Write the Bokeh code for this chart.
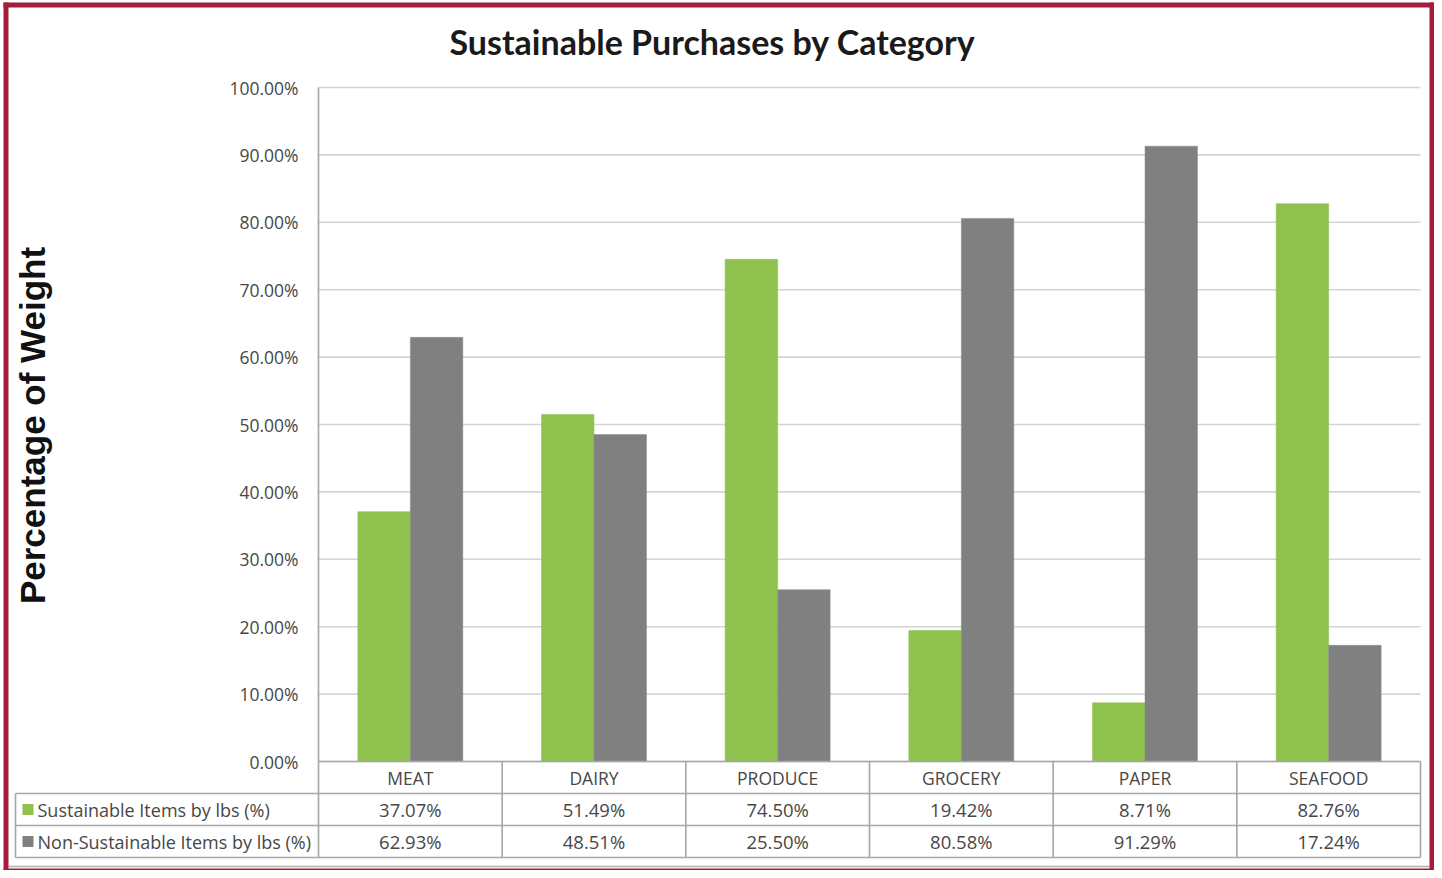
from math import pi
from bokeh.plotting import figure
from bokeh.models import Range1d
from bokeh.core.properties import value
from bokeh.embed import file_html
from bokeh.resources import INLINE

# ---------------- data ----------------
title_text = "Sustainable Purchases by Category"
y_label_text = "Percentage of Weight"
categories = ["MEAT", "DAIRY", "PRODUCE", "GROCERY", "PAPER", "SEAFOOD"]
sustainable = [37.07, 51.49, 74.50, 19.42, 8.71, 82.76]
non_sustainable = [62.93, 48.51, 25.50, 80.58, 91.29, 17.24]
series_names = ["Sustainable Items by lbs (%)", "Non-Sustainable Items by lbs (%)"]
y_ticks = [0, 10, 20, 30, 40, 50, 60, 70, 80, 90, 100]

# ---------------- layout (pixels of the reference picture) ----------------
PX = (1420 - 318) / 6.0     # pixels per category
PY = (761 - 87) / 100.0     # pixels per percent


def X(px):
    return (px - 318) / PX


def Y(py):
    return (761 - py) / PY


GREEN = "#8fc14f"
GRAY = "#7f807f"
GRID = "#d4d4d4"
AXIS = "#a6a6a6"
TXT = "#474747"
RED = "#a51d3a"
FONT = "Open Sans"

W, H = 1434, 870
p = figure(width=W, height=H, output_backend="svg", toolbar_location=None,
           x_range=Range1d(X(0), X(W)), y_range=Range1d(Y(H), Y(0)),
           x_axis_location=None, y_axis_location=None, min_border=0,
           background_fill_color="white", border_fill_color="white")
p.grid.visible = False
p.outline_line_color = None

n = len(categories)
idx = list(range(n))
bw = 52.5 / PX

# gridlines
p.segment(x0=[0] * len(y_ticks), x1=[n] * len(y_ticks), y0=y_ticks, y1=y_ticks,
          line_color=GRID, line_width=1.6)

# bars
p.vbar(x=[i + 0.5 - bw / 2 for i in idx], top=sustainable, bottom=0, width=bw,
       fill_color=GREEN, line_color=GREEN, line_width=0.5)
p.vbar(x=[i + 0.5 + bw / 2 for i in idx], top=non_sustainable, bottom=0, width=bw,
       fill_color=GRAY, line_color="#8c8c8c", line_width=0.5)

# axis lines and data-table lines
p.segment(x0=[0], x1=[0], y0=[100], y1=[Y(857)], line_color=AXIS, line_width=1.6)
p.segment(x0=[0], x1=[n], y0=[0], y1=[0], line_color=AXIS, line_width=1.6)
p.segment(x0=[X(15)] * 3, x1=[n] * 3, y0=[Y(793), Y(825), Y(857)],
          y1=[Y(793), Y(825), Y(857)], line_color=AXIS, line_width=1.6)
p.segment(x0=[X(15)], x1=[X(15)], y0=[Y(793)], y1=[Y(857)], line_color=AXIS, line_width=1.6)
p.segment(x0=[i + 1 for i in idx], x1=[i + 1 for i in idx], y0=[0] * n, y1=[Y(857)] * n,
          line_color=AXIS, line_width=1.6)

# y tick labels
p.text(x=[X(298)] * len(y_ticks), y=y_ticks, text=[f"{t:.2f}%" for t in y_ticks],
       text_align="right", text_baseline="middle", text_font=value(FONT),
       text_font_size="17.5px", text_color=TXT)

# table: categories and values
cx = [i + 0.5 for i in idx]
p.text(x=cx, y=[Y(777)] * n, text=categories, text_align="center", text_baseline="middle",
       text_font=value(FONT), text_font_size="17.5px", text_color=TXT)
p.text(x=cx, y=[Y(809)] * n, text=[f"{v:.2f}%" for v in sustainable], text_align="center",
       text_baseline="middle", text_font=value(FONT), text_font_size="18.5px", text_color=TXT)
p.text(x=cx, y=[Y(841)] * n, text=[f"{v:.2f}%" for v in non_sustainable], text_align="center",
       text_baseline="middle", text_font=value(FONT), text_font_size="18.5px", text_color=TXT)

# legend keys inside the table
p.scatter(x=[X(27.5)] * 2, y=[Y(809), Y(841)], marker="square", size=11,
          fill_color=[GREEN, GRAY], line_color=None)
p.text(x=[X(37)] * 2, y=[Y(809), Y(841)], text=series_names, text_align="left",
       text_baseline="middle", text_font=value(FONT), text_font_size="18px", text_color=TXT)

# title and y-axis label
p.text(x=[X(712)], y=[Y(41)], text=[title_text], text_align="center", text_baseline="middle",
       text_font=value("Lato"), text_font_style="bold", text_font_size="34px", text_color="#1a1a1a")
p.text(x=[X(32)], y=[Y(425)], text=[y_label_text], angle=pi / 2, text_align="center",
       text_baseline="middle", text_font=value("Liberation Sans"), text_font_style="bold",
       text_font_size="35px", text_color="#111111")

# outer frame
p.segment(x0=[X(8)], x1=[X(1429)], y0=[Y(866)], y1=[Y(866)], line_color="#b0b0b0", line_width=1.5)
p.quad(left=[X(3), X(3), X(1429), X(3)], right=[X(8), X(1434), X(1434), X(1434)],
       bottom=[Y(870), Y(7), Y(870), Y(870)], top=[Y(2), Y(2), Y(2), Y(868)],
       fill_color=RED, line_color=None)

open("out.html", "w").write(file_html(p, INLINE))
